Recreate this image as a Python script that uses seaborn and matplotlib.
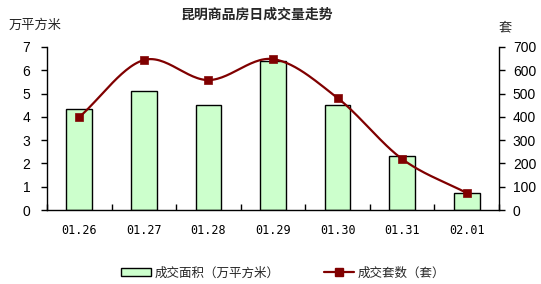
import matplotlib
matplotlib.use("Agg")
import matplotlib.pyplot as plt
import seaborn as sns
import numpy as np
import pandas as pd
from matplotlib.patches import Patch
from matplotlib.lines import Line2D

dates = ["01.26", "01.27", "01.28", "01.29", "01.30", "01.31", "02.01"]
area = [4.33, 5.1, 4.5, 6.4, 4.5, 2.32, 0.72]
units = [399, 644, 558, 648, 481, 219, 73]

sns.set_theme(style="white")
plt.rcParams['font.family'] = ['Noto Sans CJK SC', 'DejaVu Sans']

fig = plt.figure(figsize=(5.41, 2.84), dpi=100)
ax = fig.add_axes([47/541, 1-210/284, (499-47)/541, (210-47)/284])

df = pd.DataFrame({"date": dates, "area": area, "units": units})
sns.barplot(data=df, x="date", y="area", ax=ax, color="#CCFFCC",
            edgecolor="black", linewidth=1, width=0.4, saturation=1)
for p in ax.patches:
    p.set_facecolor("#CCFFCC")

ax.set_ylim(0, 7)
ax.set_xlim(-0.5, 6.5)
ax.set_yticks(range(0, 8))
ax.set_xlabel("")
ax.set_ylabel("")
ax.spines["top"].set_visible(False)
ax.spines["right"].set_visible(False)
for s in ["left", "bottom"]:
    ax.spines[s].set_color("black")
    ax.spines[s].set_linewidth(1)

ax.tick_params(axis="y", direction="out", length=4, width=1, colors="black",
               labelsize=10, left=True, pad=8)
ax.tick_params(axis="x", bottom=False, labelsize=8.5, pad=4, colors="black")
for lab in ax.get_xticklabels():
    lab.set_family("DejaVu Sans Mono")
for lab in ax.get_yticklabels():
    lab.set_family("Liberation Sans")
# category boundary ticks
ax.set_xticks(np.arange(-0.5, 7, 1), minor=True)
ax.tick_params(axis="x", which="minor", bottom=True, direction="in", length=4, width=1, color="black")

ax2 = ax.twinx()
# smooth curve (Catmull-Rom) through data points
xs = np.arange(len(units), dtype=float)
ys = np.array(units, dtype=float)
px = np.concatenate([[2*xs[0]-xs[1]], xs, [2*xs[-1]-xs[-2]]])
py = np.concatenate([[2*ys[0]-ys[1]], ys, [2*ys[-1]-ys[-2]]])
cx, cy = [], []
for i in range(1, len(px)-2):
    t = np.linspace(0, 1, 30)
    for arr, out in ((px, cx), (py, cy)):
        p0, p1, p2, p3 = arr[i-1], arr[i], arr[i+1], arr[i+2]
        out.extend(0.5*((2*p1) + (-p0+p2)*t + (2*p0-5*p1+4*p2-p3)*t**2 + (-p0+3*p1-3*p2+p3)*t**3))
sns.lineplot(x=cx, y=cy, ax=ax2, color="#800000", linewidth=1.6, sort=False)
sns.scatterplot(x=xs, y=ys, ax=ax2, color="#800000", marker="s", s=36, edgecolor="#800000", zorder=5)
ax2.set_ylim(0, 700)
ax2.set_yticks(range(0, 701, 100))
for s in ["top", "left", "bottom"]:
    ax2.spines[s].set_visible(False)
ax2.spines["right"].set_color("black")
ax2.spines["right"].set_linewidth(1)
ax2.tick_params(axis="y", direction="out", length=4, width=1, colors="black",
                labelsize=10, right=True, pad=6)
for lab in ax2.get_yticklabels():
    lab.set_family("Liberation Sans")

fig.text(257/541, 1-15/284, "昆明商品房日成交量走势", ha="center", va="center",
         fontsize=10, fontweight="bold")
fig.text(9/541, 1-25/284, "万平方米", ha="left", va="center", fontsize=9.5)
fig.text(505/541, 1-28/284, "套", ha="center", va="center", fontsize=9.5)

handles = [Patch(facecolor="#CCFFCC", edgecolor="black", linewidth=1),
           Line2D([0], [0], color="#800000", lw=1.6, marker="s", markersize=6)]
fig.legend(handles, ["成交面积（万平方米）", "成交套数（套）"], loc="center",
           bbox_to_anchor=(283/541, 1-273/284), ncol=2, frameon=False,
           fontsize=9, columnspacing=3.6, handlelength=2.4, handletextpad=0.3,
           handleheight=0.6)
fig.savefig("out.png", dpi=100)
